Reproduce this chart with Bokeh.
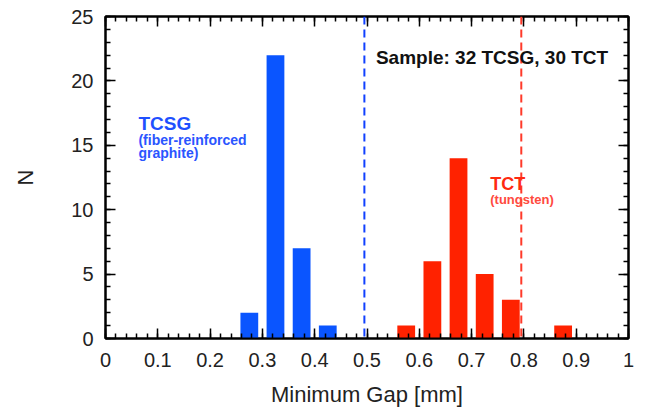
from bokeh.plotting import figure
from bokeh.models import (Range1d, SingleIntervalTicker, LinearAxis, Span, Label,
                          CustomJSTickFormatter)
from bokeh.embed import file_html
from bokeh.resources import INLINE

# ---- data ----
tcsg_gap = [0.275, 0.325, 0.375, 0.425]
tcsg_n = [2, 22, 7, 1]
tct_gap = [0.575, 0.625, 0.675, 0.725, 0.775, 0.875]
tct_n = [1, 6, 14, 5, 3, 1]
tcsg_limit = [0.495]
tct_limit = [0.795]
x_label = "Minimum Gap [mm]"
y_label = "N"
sample_text = "Sample: 32 TCSG, 30 TCT"

BLUE = "#0a55ff"
RED = "#ff2200"
FONT = "Liberation Sans"

p = figure(width=638, height=412, output_backend="svg", toolbar_location=None,
           x_range=Range1d(0, 1), y_range=Range1d(0, 25),
           min_border_left=105, min_border_right=10, min_border_top=16, min_border_bottom=74)
p.background_fill_color = "white"
p.border_fill_color = "white"
p.outline_line_color = "black"
p.outline_line_width = 2
p.xgrid.visible = False
p.ygrid.visible = False

p.vbar(x=tcsg_gap, top=tcsg_n, width=0.034, bottom=0, fill_color=BLUE, line_color=None)
p.vbar(x=tct_gap, top=tct_n, width=0.034, bottom=0, fill_color=RED, line_color=None)

p.add_layout(Span(location=tcsg_limit[0], dimension="height", line_color="#1040ff",
                  line_width=2, line_dash="8 5"))
p.add_layout(Span(location=tct_limit[0], dimension="height", line_color="#ff3a2a",
                  line_width=2, line_dash="8 5"))

fmt = CustomJSTickFormatter(code="return (Math.round(tick*10)/10).toString();")

def style_axis(ax, labels=True):
    ax.axis_line_color = "black"
    ax.axis_line_width = 2
    ax.major_tick_in = 10
    ax.major_tick_out = 0
    ax.minor_tick_in = 5
    ax.minor_tick_out = 0
    ax.major_tick_line_width = 1.5
    ax.minor_tick_line_width = 1.5
    ax.major_tick_line_color = "black"
    ax.minor_tick_line_color = "black"
    if labels:
        ax.major_label_text_font = FONT
        ax.major_label_text_font_size = "20px"
        ax.major_label_text_color = "#222222"
        ax.axis_label_text_font = FONT
        ax.axis_label_text_font_style = "normal"
        ax.axis_label_text_font_size = "22px"
        ax.axis_label_text_color = "#222222"
    else:
        ax.major_label_text_font_size = "0px"
        ax.major_label_text_color = None
        ax.major_label_standoff = 0

xt = SingleIntervalTicker(interval=0.1, num_minor_ticks=5)
yt = SingleIntervalTicker(interval=5, num_minor_ticks=5)

xa = p.xaxis[0]
xa.ticker = xt
xa.formatter = fmt
xa.axis_label = x_label
style_axis(xa)
xa.major_label_standoff = 14
xa.axis_label_standoff = 12

ya = p.yaxis[0]
ya.ticker = yt
ya.axis_label = y_label
style_axis(ya)
ya.major_label_standoff = 12
ya.axis_label_standoff = 30

top = LinearAxis(ticker=SingleIntervalTicker(interval=0.1, num_minor_ticks=5))
style_axis(top, labels=False)
p.add_layout(top, "above")
right = LinearAxis(ticker=SingleIntervalTicker(interval=5, num_minor_ticks=5))
style_axis(right, labels=False)
p.add_layout(right, "right")

def lab(x, y, text, color, size, style="bold"):
    p.add_layout(Label(x=x, y=y, text=text, text_color=color, text_font=FONT,
                       text_font_size=size, text_font_style=style,
                       text_baseline="alphabetic", text_align="left"))

lab(0.517, 21.8, sample_text, "#111111", "19px")
lab(0.063, 16.7, "TCSG", "#1f50ff", "19px")
lab(0.063, 15.45, "(fiber-reinforced", "#2a55ff", "14px")
lab(0.063, 14.4, "graphite)", "#2a55ff", "14px")
lab(0.7356, 12.0, "TCT", "#ff2a10", "18px")
lab(0.7356, 10.8, "(tungsten)", "#ff4a40", "13px")

open("out.html", "w").write(file_html(p, INLINE))
